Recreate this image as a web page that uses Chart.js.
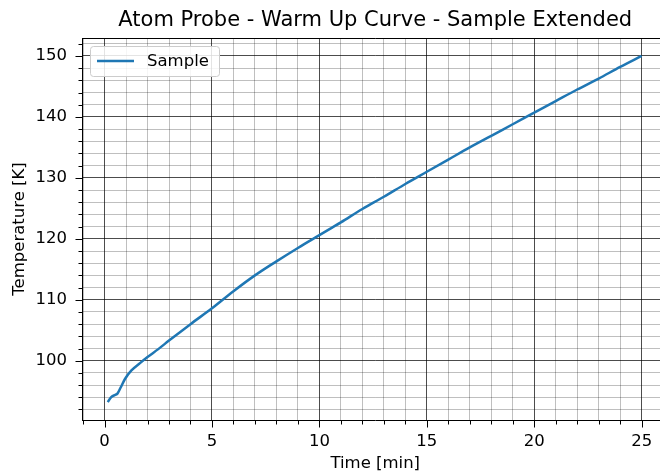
<!DOCTYPE html>
<html>
<head>
<meta charset="utf-8">
<script src="https://cdn.jsdelivr.net/npm/chart.js@4.4.1/dist/chart.umd.min.js"></script>
<style>
html, body { margin: 0; padding: 0; background: #fff; overflow: hidden; }
canvas { display: block; }
</style>
</head>
<body>
<canvas id="c" width="700" height="475" style="width:700px;height:475px"></canvas>
<script>
// warm up readings
const timeMin = [0.15, 0.3, 0.5, 0.6, 0.75, 0.95, 1.25, 1.65, 2.0, 2.5, 3.0, 4.0, 5.0, 6.0, 7.0, 8.0, 9.0,
    10.0, 11.0, 12.0, 13.0, 14.0, 15.0, 16.0, 17.0, 18.0, 19.0, 20.0, 21.0, 22.0, 23.0, 24.0, 25.0];
const tempK = [93.2, 94.0, 94.4, 94.6, 95.6, 97.0, 98.4, 99.6, 100.6, 101.9, 103.3, 106.0, 108.6, 111.4, 114.0, 116.3, 118.5,
    120.6, 122.7, 124.9, 126.9, 129.0, 131.0, 133.0, 135.0, 136.9, 138.8, 140.7, 142.6, 144.5, 146.3, 148.2, 150.0];

const xMajor = [0, 5, 10, 15, 20, 25];
const yMajor = [100, 110, 120, 130, 140, 150];
const chartTitle = 'Atom Probe - Warm Up Curve - Sample Extended';
const seriesLabel = 'Sample';

const xMinor = [];
for (let v = -1; v <= 26; v++) xMinor.push(v);
const yMinor = [];
for (let v = 92; v <= 152; v += 2) yMinor.push(v);

const FONT = '"DejaVu Sans", sans-serif';
const majorGrid = 'rgba(0,0,0,0.7)';
const minorGrid = 'rgba(0,0,0,0.25)';
const lineColor = '#1f77b4';

const frame = {
    id: 'frame',
    afterDraw(chart) {
        const {ctx, chartArea: a, scales: {x, y}} = chart;
        ctx.save();
        ctx.strokeStyle = '#000';
        ctx.lineWidth = 1;
        const seg = (x1, y1, x2, y2) => {
            ctx.beginPath();
            ctx.moveTo(x1, y1);
            ctx.lineTo(x2, y2);
            ctx.stroke();
        };
        // top and right spines
        const top = Math.round(a.top) + 0.5;
        seg(a.left, top, a.right, top);
        const right = Math.round(a.right) + 0.5;
        seg(right, a.top, right, a.bottom);

        // tick marks, long for major, short for minor
        const bottom = Math.round(a.bottom) + 0.5;
        xMinor.forEach(v => {
            const px = Math.round(x.getPixelForValue(v)) + 0.5;
            seg(px, bottom, px, bottom + (xMajor.includes(v) ? 7 : 4));
        });
        const left = Math.round(a.left) + 0.5;
        yMinor.forEach(v => {
            const py = Math.round(y.getPixelForValue(v)) + 0.5;
            seg(left, py, left - (yMajor.includes(v) ? 7 : 4), py);
        });

        // legend box inside the plot
        ctx.fillStyle = 'rgba(255,255,255,0.85)';
        ctx.strokeStyle = '#cccccc';
        ctx.beginPath();
        ctx.roundRect(90.5, 46.5, 129, 30, 3);
        ctx.fill();
        ctx.stroke();
        ctx.strokeStyle = lineColor;
        ctx.lineWidth = 2.5;
        seg(97, 61, 134, 61);
        ctx.fillStyle = '#000';
        ctx.font = '16.5px ' + FONT;
        ctx.textAlign = 'left';
        ctx.textBaseline = 'middle';
        ctx.fillText(seriesLabel, 147, 62);

        // title centred over the plot area
        ctx.font = '21px ' + FONT;
        ctx.textAlign = 'center';
        ctx.fillText(chartTitle, (a.left + a.right) / 2, 21);
        ctx.restore();
    }
};

const tickFont = {family: FONT, size: 16.5};

new Chart(document.getElementById('c'), {
    type: 'line',
    data: {
        datasets: [{
            label: seriesLabel,
            data: timeMin.map((t, i) => ({x: t, y: tempK[i]})),
            borderColor: lineColor,
            borderWidth: 2.5,
            pointRadius: 0,
            cubicInterpolationMode: 'monotone',
            fill: false
        }]
    },
    options: {
        responsive: false,
        animation: false,
        layout: {padding: {left: 0, right: 31.5, top: 38, bottom: 0}},
        plugins: {
            legend: {display: false},
            title: {display: false},
            tooltip: {enabled: false}
        },
        scales: {
            x: {
                type: 'linear',
                min: -1.05,
                max: 26.25,
                afterBuildTicks: s => { s.ticks = xMinor.map(v => ({value: v})); },
                afterFit: s => { s.height = 55; },
                ticks: {
                    autoSkip: false,
                    maxRotation: 0,
                    padding: 12,
                    color: '#000',
                    font: tickFont,
                    callback: v => xMajor.includes(v) ? String(v) : ''
                },
                grid: {
                    drawTicks: false,
                    lineWidth: 1,
                    color: c => (c.tick && xMajor.includes(c.tick.value)) ? majorGrid : minorGrid
                },
                border: {display: true, color: '#000', width: 1},
                title: {
                    display: true,
                    text: 'Time [min]',
                    color: '#000',
                    font: tickFont,
                    padding: {top: 0, bottom: 1}
                }
            },
            y: {
                type: 'linear',
                min: 90.27,
                max: 152.95,
                afterBuildTicks: s => { s.ticks = yMinor.map(v => ({value: v})); },
                afterFit: s => { s.width = 82; },
                ticks: {
                    autoSkip: false,
                    padding: 15,
                    color: '#000',
                    font: tickFont,
                    callback: v => yMajor.includes(v) ? String(v) : ''
                },
                grid: {
                    drawTicks: false,
                    lineWidth: 1,
                    color: c => (c.tick && yMajor.includes(c.tick.value)) ? majorGrid : minorGrid
                },
                border: {display: true, color: '#000', width: 1},
                title: {
                    display: true,
                    text: 'Temperature [K]',
                    color: '#000',
                    font: tickFont,
                    padding: {top: 10, bottom: 0}
                }
            }
        }
    },
    plugins: [frame]
});
</script>
</body>
</html>
